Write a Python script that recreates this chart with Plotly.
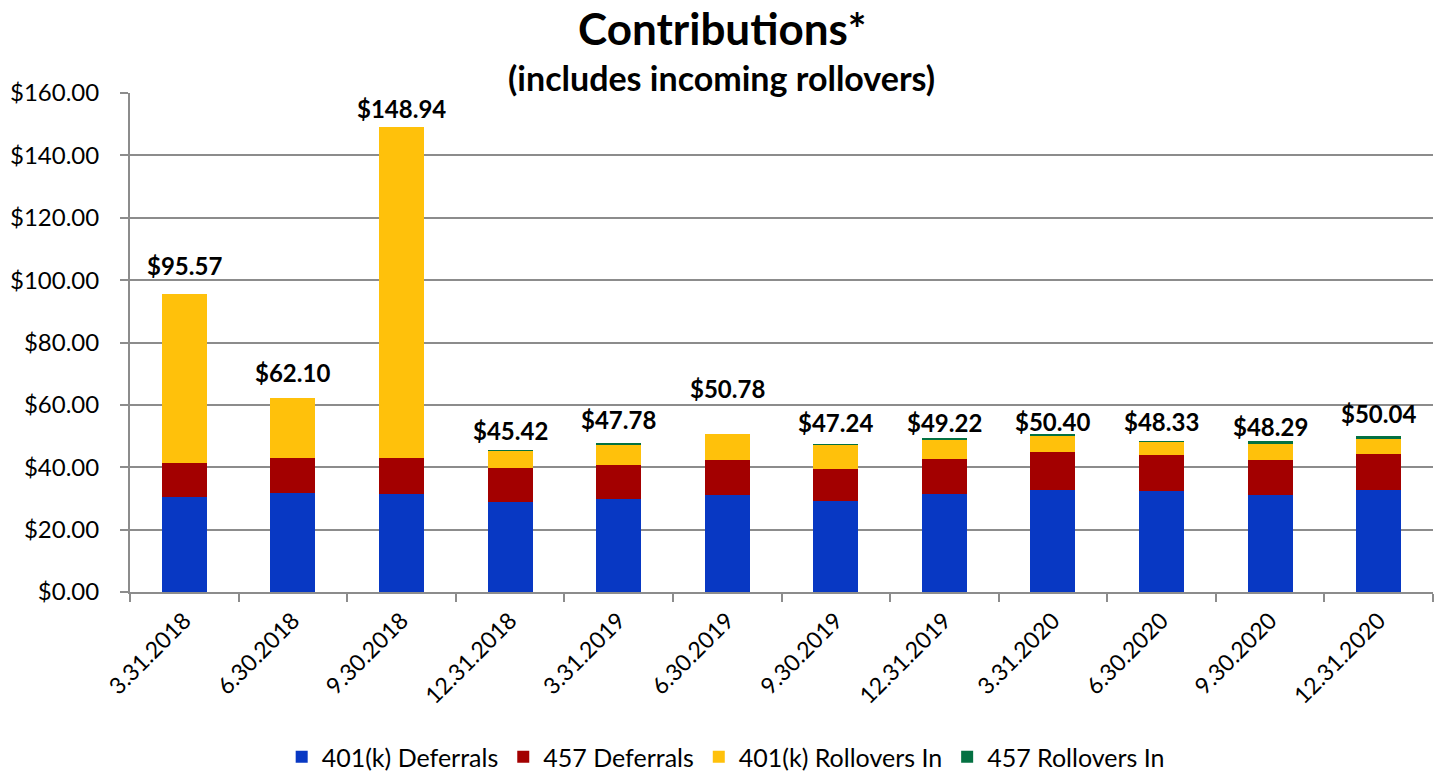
import plotly.graph_objects as go

# Quarter-end dates shown on the category axis
quarters = ["3.31.2018", "6.30.2018", "9.30.2018", "12.31.2018",
            "3.31.2019", "6.30.2019", "9.30.2019", "12.31.2019",
            "3.31.2020", "6.30.2020", "9.30.2020", "12.31.2020"]

# Contribution amounts per source (stacked bottom to top)
deferrals_401k = [30.40, 31.70, 31.50, 29.00, 29.70, 31.20, 29.20, 31.50, 32.60, 32.40, 31.00, 32.60]
deferrals_457 = [11.00, 11.20, 11.50, 10.70, 11.10, 11.00, 10.10, 11.10, 12.20, 11.60, 11.30, 11.70]
rollovers_401k = [54.17, 19.20, 105.94, 5.62, 6.50, 8.58, 7.84, 6.20, 5.50, 4.23, 5.15, 4.60]
rollovers_457 = [0.00, 0.00, 0.00, 0.10, 0.48, 0.00, 0.10, 0.42, 0.10, 0.10, 0.84, 1.14]

series = [
    ("401(k) Deferrals", deferrals_401k, "#0838C3"),
    ("457 Deferrals", deferrals_457, "#A30000"),
    ("401(k) Rollovers In", rollovers_401k, "#FFC10B"),
    ("457 Rollovers In", rollovers_457, "#047142"),
]

# Pixel lift of each total label above its bar
label_lift = [28, 26, 19, 20, 23, 45, 22, 16, 13, 20, 15, 22]

FONT = "Lato, Carlito, Calibri, sans-serif"

fig = go.Figure()
for name, values, color in series:
    fig.add_trace(go.Bar(
        x=quarters, y=values, name=name,
        marker=dict(color=color, line=dict(width=0)),
    ))

totals = [round(sum(v), 2) for v in zip(deferrals_401k, deferrals_457, rollovers_401k, rollovers_457)]
for q, t, lift in zip(quarters, totals, label_lift):
    fig.add_annotation(
        x=q, y=t, text=f"<b>${t:,.2f}</b>", showarrow=False,
        yanchor="middle", yshift=lift,
        font=dict(family=FONT, size=24, color="#000000"),
    )

fig.add_annotation(
    xref="paper", yref="paper", x=0.454, y=1, yshift=65, showarrow=False,
    text="<b>Contributions*</b>", yanchor="middle",
    font=dict(family=FONT, size=44, color="#000000"),
)
fig.add_annotation(
    xref="paper", yref="paper", x=0.454, y=1, yshift=16, showarrow=False,
    text="<b>(includes incoming rollovers)</b>", yanchor="middle",
    font=dict(family=FONT, size=34, color="#000000"),
)

fig.update_layout(
    barmode="stack",
    bargap=0.586,
    width=1437, height=771,
    margin=dict(l=130, r=4, t=93, b=179, autoexpand=False),
    paper_bgcolor="white", plot_bgcolor="white",
    font=dict(family=FONT, size=22, color="#000000"),
    showlegend=True,
    legend=dict(
        orientation="h", xref="container", x=0.505, xanchor="center",
        yref="container", y=0.018, yanchor="middle",
        font=dict(family=FONT, size=25), itemwidth=30, traceorder="normal",
        itemsizing="constant",
    ),
    xaxis=dict(
        type="category", tickangle=-45, tickson="boundaries",
        ticks="outside", ticklen=8, tickcolor="#8C8C8C", tickwidth=2,
        showline=True, linecolor="#8C8C8C", linewidth=2,
        tickfont=dict(family=FONT, size=23), automargin=False,
        ticklabelstandoff=4,
    ),
    yaxis=dict(
        range=[0, 160], dtick=20, tickprefix="$", tickformat=".2f",
        showgrid=True, gridcolor="#8C8C8C", gridwidth=2,
        ticks="outside", ticklen=8, tickcolor="#8C8C8C", tickwidth=2,
        showline=True, linecolor="#8C8C8C", linewidth=2,
        zeroline=False, tickfont=dict(family=FONT, size=24),
        automargin=False, ticklabelstandoff=16,
    ),
)

fig.write_html("out.html")
